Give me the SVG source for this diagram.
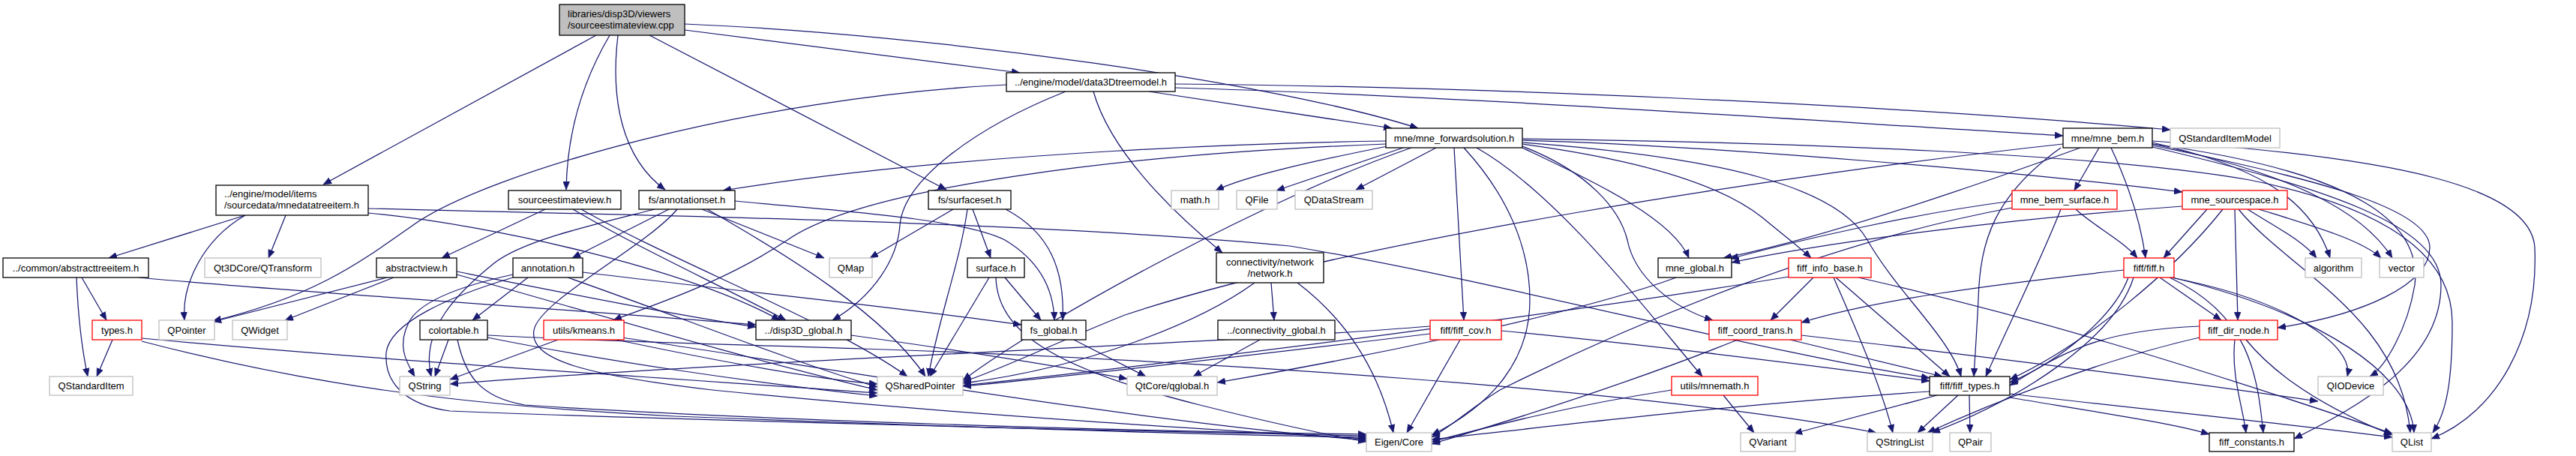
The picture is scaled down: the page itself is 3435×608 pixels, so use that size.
<svg xmlns="http://www.w3.org/2000/svg" width="3435" height="608" viewBox="0 0 3435 608">
<defs>
<style>
.n rect{fill:#fff;stroke:#000;stroke-width:1.3}
.g rect{stroke:#bfbfbf}
.r rect{stroke:#ff0000}
.root rect{fill:#bfbfbf}
text{font-family:"Liberation Sans",Arial,sans-serif;font-size:13px;fill:#000}
.c{text-anchor:middle}
#edges path{fill:none;stroke:#191970;stroke-width:1.25;marker-end:url(#a)}
</style>
<marker id="a" markerUnits="userSpaceOnUse" markerWidth="11" markerHeight="9" viewBox="0 0 11 9" refX="11" refY="4.5" orient="auto"><path d="M0,0 L11,4.5 L0,9 z" fill="#191970" stroke="#191970" stroke-width="0.5"/></marker>
</defs>
<rect width="3435" height="608" fill="#fff"/>
<g id="edges">
<path d="M795,47 L431,246"/>
<path d="M813,47 C776,110 756,180 755,253"/>
<path d="M824,47 C814,130 828,210 887,253"/>
<path d="M866,47 L1262,253"/>
<path d="M913,40 L1360,97"/>
<path d="M913,32 C1250,46 1700,110 1891,171"/>
<path d="M1532,122 L1856,171"/>
<path d="M1567,117 C1950,128 2400,160 2751,181"/>
<path d="M1567,112 C1950,115 2500,138 2894,173"/>
<path d="M1342,113 C1000,130 650,230 551,300 C480,350 420,395 284,428"/>
<path d="M1421,122 C1300,170 1205,240 1200,300 C1197,345 1165,395 1110,427"/>
<path d="M1458,122 C1480,200 1560,280 1630,337"/>
<path d="M327,287 L145,344"/>
<path d="M327,287 C270,320 242,380 246,427"/>
<path d="M381,287 L358,344"/>
<path d="M491,284 C660,300 920,360 1040,427"/>
<path d="M491,278 C1000,290 1400,298 1720,328 C2000,375 2350,470 2573,504"/>
<path d="M727,279 L589,344"/>
<path d="M764,279 C850,330 960,380 1048,427"/>
<path d="M775,279 C900,350 1110,430 1210,502"/>
<path d="M892,279 L763,344"/>
<path d="M936,279 L1099,344"/>
<path d="M873,279 C790,300 700,320 660,350 C610,390 560,440 575,502"/>
<path d="M980,268 C1100,280 1280,290 1340,320 C1390,350 1405,390 1406,427"/>
<path d="M943,279 C1050,340 1180,420 1234,502"/>
<path d="M903,279 C860,330 720,400 712,440 C705,480 780,500 950,520 C1300,555 1650,575 1822,585"/>
<path d="M1271,279 L1160,344"/>
<path d="M1290,279 C1280,350 1250,430 1238,502"/>
<path d="M1297,279 L1321,344"/>
<path d="M1341,279 C1400,310 1420,360 1417,427"/>
<path d="M102,370 C104,420 108,460 117,502"/>
<path d="M109,370 L142,427"/>
<path d="M185,370 C400,390 800,415 1008,433"/>
<path d="M150,453 L129,502"/>
<path d="M189,451 C500,480 900,505 1170,524"/>
<path d="M189,455 C400,510 600,540 900,555 C1300,570 1600,580 1822,583"/>
<path d="M516,370 L284,429"/>
<path d="M525,370 L380,427"/>
<path d="M609,366 C800,420 1000,480 1170,520"/>
<path d="M609,362 C750,390 900,420 1008,436"/>
<path d="M704,370 L630,427"/>
<path d="M684,366 C620,380 560,400 545,430 C530,460 540,480 553,502"/>
<path d="M684,370 C600,395 520,430 515,470 C512,510 540,540 600,548 C900,560 1500,575 1822,581"/>
<path d="M757,370 C900,420 1050,480 1170,516"/>
<path d="M777,363 C1000,390 1200,410 1362,433"/>
<path d="M598,453 L580,502"/>
<path d="M610,453 C620,500 640,530 700,540 C1000,560 1500,575 1822,579"/>
<path d="M650,447 C800,455 1000,460 1150,465 C1600,480 2200,520 2502,577"/>
<path d="M650,450 C800,480 1000,510 1170,528"/>
<path d="M744,453 L600,506"/>
<path d="M822,453 C950,480 1080,505 1170,512"/>
<path d="M829,450 C1100,490 1500,560 1822,587"/>
<path d="M1135,447 C1300,470 1420,490 1503,505"/>
<path d="M1432,453 L1528,502"/>
<path d="M1319,370 L1240,502"/>
<path d="M1340,370 L1388,427"/>
<path d="M1328,370 C1330,440 1400,490 1600,540 C1700,565 1760,578 1822,589"/>
<path d="M1695,377 L1699,427"/>
<path d="M1673,377 C1600,430 1450,490 1284,511"/>
<path d="M1730,377 C1800,430 1840,500 1858,577"/>
<path d="M1680,453 L1591,502"/>
<path d="M1947,453 L1876,577"/>
<path d="M1907,435 C1600,460 1000,480 600,512"/>
<path d="M1907,445 C1700,470 1450,500 1284,515"/>
<path d="M2002,441 C2200,460 2400,485 2573,508"/>
<path d="M1848,188 C1720,190 1300,200 964,254"/>
<path d="M1848,192 C1500,205 1150,250 1050,320 C960,380 860,410 818,427"/>
<path d="M1882,197 C1700,260 1400,420 1284,507"/>
<path d="M1915,197 L1808,253"/>
<path d="M1850,195 C1750,215 1660,235 1621,254"/>
<path d="M1871,197 L1702,254"/>
<path d="M1939,197 L1952,427"/>
<path d="M1952,197 C2010,260 2040,330 2040,400 C2040,480 1990,540 1909,580"/>
<path d="M1969,197 C2080,260 2200,420 2270,502"/>
<path d="M2030,195 C2120,230 2160,280 2170,320 C2180,370 2230,410 2284,427"/>
<path d="M2030,197 C2120,240 2230,290 2252,344"/>
<path d="M2030,192 C2200,215 2300,250 2350,290 C2380,315 2400,330 2415,344"/>
<path d="M2030,190 C2300,210 2450,250 2490,320 C2530,390 2600,450 2615,502"/>
<path d="M2030,187 C2300,195 2700,230 2910,256"/>
<path d="M2030,185 C2400,190 2800,205 3000,240 C3200,280 3270,350 3270,430 C3270,510 3262,550 3244,577"/>
<path d="M2774,197 C2600,260 2420,320 2298,344"/>
<path d="M2751,192 C2400,230 1800,320 1500,420 C1400,460 1330,495 1284,509"/>
<path d="M2748,197 C2660,260 2640,320 2638,400 C2636,440 2634,470 2632,502"/>
<path d="M2799,197 L2766,254"/>
<path d="M2815,197 C2840,250 2855,300 2861,344"/>
<path d="M2870,190 C3000,220 3080,260 3107,344"/>
<path d="M2870,192 C3050,230 3150,280 3190,344"/>
<path d="M2870,194 C3100,240 3240,280 3240,330 C3240,380 3150,420 3037,437"/>
<path d="M2870,196 C3100,250 3255,300 3255,380 C3255,480 3150,540 3059,585"/>
<path d="M2870,188 C3200,210 3375,250 3380,330 C3385,450 3330,550 3242,585"/>
<path d="M2870,192 C3150,230 3230,300 3220,380 C3210,440 3180,490 3160,502"/>
<path d="M2683,268 C2550,285 2400,320 2307,345"/>
<path d="M2683,277 C2450,320 2200,420 2000,520 C1960,545 1940,565 1909,583"/>
<path d="M2748,279 C2720,350 2680,430 2648,502"/>
<path d="M2768,279 C2790,300 2830,320 2850,344"/>
<path d="M2910,275 C2700,290 2450,320 2309,350"/>
<path d="M2943,279 L2885,344"/>
<path d="M2980,279 L2984,427"/>
<path d="M2997,279 C3030,300 3070,320 3089,344"/>
<path d="M3012,279 C3080,300 3150,320 3175,344"/>
<path d="M2985,279 C3050,360 3200,420 3214,577"/>
<path d="M2964,279 C2900,360 2780,460 2680,506"/>
<path d="M2832,360 C2650,380 2500,400 2402,430"/>
<path d="M2880,370 L2962,427"/>
<path d="M2838,370 C2820,420 2750,480 2680,510"/>
<path d="M2895,370 C3050,400 3140,460 3130,502"/>
<path d="M2893,370 C3000,420 3010,500 3018,577"/>
<path d="M2897,370 C3100,420 3214,500 3219,577"/>
<path d="M2845,370 C2820,450 2700,530 2576,577"/>
<path d="M2933,435 C2800,440 2750,470 2680,514"/>
<path d="M2980,453 C2975,500 2990,540 2995,577"/>
<path d="M2995,453 C3050,520 3140,560 3190,580"/>
<path d="M2933,450 C2800,480 2650,540 2570,577"/>
<path d="M2583,527 L2392,578"/>
<path d="M2611,527 L2557,577"/>
<path d="M2626,527 L2627,577"/>
<path d="M2680,530 C2800,550 2900,565 2946,579"/>
<path d="M2680,525 C2850,545 3050,565 3190,583"/>
<path d="M2573,522 C2300,540 2100,565 1909,586"/>
<path d="M2298,527 L2339,577"/>
<path d="M2229,520 C2100,540 2000,565 1909,589"/>
<path d="M2235,370 C2100,420 1800,480 1623,510"/>
<path d="M2317,453 C2200,500 2050,550 1909,592"/>
<path d="M2387,453 L2590,502"/>
<path d="M2402,447 C2600,470 2850,500 3091,535"/>
<path d="M2418,370 L2361,427"/>
<path d="M2445,370 C2480,450 2510,520 2524,577"/>
<path d="M2448,370 L2600,502"/>
<path d="M2478,370 C2700,420 2900,480 3190,578"/>
<path d="M2385,369 C2200,400 1700,470 1284,514"/>
</g>
<g id="node_root" class="n root"><rect x="746" y="6" width="167" height="41"/><text x="757" y="23">libraries/disp3D/viewers</text><text x="757" y="38">/sourceestimateview.cpp</text></g>
<g id="node_d3d" class="n"><rect x="1342" y="97" width="225" height="25"/><text class="c" x="1454.5" y="114">../engine/model/data3Dtreemodel.h</text></g>
<g id="node_fwd" class="n"><rect x="1848" y="171" width="182" height="26"/><text class="c" x="1939" y="188.5">mne/mne_forwardsolution.h</text></g>
<g id="node_bem" class="n"><rect x="2751" y="171" width="119" height="26"/><text class="c" x="2810.5" y="188.5">mne/mne_bem.h</text></g>
<g id="node_qsim" class="n g"><rect x="2894" y="171" width="146" height="26"/><text class="c" x="2967" y="188.5">QStandardItemModel</text></g>
<g id="node_mdti" class="n"><rect x="288" y="247" width="203" height="40"/><text x="299" y="263">../engine/model/items</text><text x="299" y="278">/sourcedata/mnedatatreeitem.h</text></g>
<g id="node_sevh" class="n"><rect x="678" y="254" width="150" height="25"/><text class="c" x="753" y="271">sourceestimateview.h</text></g>
<g id="node_ans" class="n"><rect x="852" y="254" width="128" height="25"/><text class="c" x="916" y="271">fs/annotationset.h</text></g>
<g id="node_sfs" class="n"><rect x="1238" y="254" width="110" height="25"/><text class="c" x="1293" y="271">fs/surfaceset.h</text></g>
<g id="node_math" class="n g"><rect x="1562" y="254" width="63" height="25"/><text class="c" x="1593.5" y="271">math.h</text></g>
<g id="node_qfile" class="n g"><rect x="1649" y="254" width="54" height="25"/><text class="c" x="1676" y="271">QFile</text></g>
<g id="node_qds" class="n g"><rect x="1727" y="254" width="103" height="25"/><text class="c" x="1778.5" y="271">QDataStream</text></g>
<g id="node_bems" class="n r"><rect x="2683" y="254" width="140" height="25"/><text class="c" x="2753" y="271">mne_bem_surface.h</text></g>
<g id="node_ssp" class="n r"><rect x="2910" y="254" width="140" height="25"/><text class="c" x="2980" y="271">mne_sourcespace.h</text></g>
<g id="node_ati" class="n"><rect x="4" y="344" width="194" height="26"/><text class="c" x="101" y="361.5">../common/abstracttreeitem.h</text></g>
<g id="node_qtr" class="n g"><rect x="273" y="344" width="155" height="26"/><text class="c" x="350.5" y="361.5">Qt3DCore/QTransform</text></g>
<g id="node_av" class="n"><rect x="502" y="344" width="107" height="26"/><text class="c" x="555.5" y="361.5">abstractview.h</text></g>
<g id="node_ann" class="n"><rect x="684" y="344" width="93" height="26"/><text class="c" x="730.5" y="361.5">annotation.h</text></g>
<g id="node_qmap" class="n g"><rect x="1106" y="344" width="57" height="26"/><text class="c" x="1134.5" y="361.5">QMap</text></g>
<g id="node_surf" class="n"><rect x="1290" y="344" width="76" height="26"/><text class="c" x="1328" y="361.5">surface.h</text></g>
<g id="node_net" class="n"><rect x="1622" y="337" width="143" height="40"/><text class="c" x="1693.5" y="354">connectivity/network</text><text class="c" x="1693.5" y="369">/network.h</text></g>
<g id="node_mneg" class="n"><rect x="2211" y="344" width="98" height="26"/><text class="c" x="2260" y="361.5">mne_global.h</text></g>
<g id="node_fib" class="n r"><rect x="2385" y="344" width="110" height="26"/><text class="c" x="2440" y="361.5">fiff_info_base.h</text></g>
<g id="node_fiff" class="n r"><rect x="2832" y="344" width="67" height="26"/><text class="c" x="2865.5" y="361.5">fiff/fiff.h</text></g>
<g id="node_alg" class="n g"><rect x="3074" y="344" width="75" height="26"/><text class="c" x="3111.5" y="361.5">algorithm</text></g>
<g id="node_vec" class="n g"><rect x="3173" y="344" width="59" height="26"/><text class="c" x="3202.5" y="361.5">vector</text></g>
<g id="node_types" class="n r"><rect x="123" y="427" width="66" height="26"/><text class="c" x="156" y="444.5">types.h</text></g>
<g id="node_qptr" class="n g"><rect x="212" y="427" width="74" height="26"/><text class="c" x="249" y="444.5">QPointer</text></g>
<g id="node_qwid" class="n g"><rect x="310" y="427" width="73" height="26"/><text class="c" x="346.5" y="444.5">QWidget</text></g>
<g id="node_ct" class="n"><rect x="560" y="427" width="90" height="26"/><text class="c" x="605" y="444.5">colortable.h</text></g>
<g id="node_km" class="n r"><rect x="725" y="427" width="107" height="26"/><text class="c" x="778.5" y="444.5">utils/kmeans.h</text></g>
<g id="node_d3g" class="n"><rect x="1008" y="427" width="127" height="26"/><text class="c" x="1071.5" y="444.5">../disp3D_global.h</text></g>
<g id="node_fsg" class="n"><rect x="1362" y="427" width="86" height="26"/><text class="c" x="1405" y="444.5">fs_global.h</text></g>
<g id="node_cong" class="n"><rect x="1624" y="427" width="156" height="26"/><text class="c" x="1702" y="444.5">../connectivity_global.h</text></g>
<g id="node_cov" class="n r"><rect x="1907" y="427" width="95" height="26"/><text class="c" x="1954.5" y="444.5">fiff/fiff_cov.h</text></g>
<g id="node_fct" class="n r"><rect x="2279" y="427" width="123" height="26"/><text class="c" x="2340.5" y="444.5">fiff_coord_trans.h</text></g>
<g id="node_fdn" class="n r"><rect x="2933" y="427" width="104" height="26"/><text class="c" x="2985" y="444.5">fiff_dir_node.h</text></g>
<g id="node_qsi" class="n g"><rect x="66" y="502" width="111" height="25"/><text class="c" x="121.5" y="519">QStandardItem</text></g>
<g id="node_qstr" class="n g"><rect x="533" y="502" width="67" height="25"/><text class="c" x="566.5" y="519">QString</text></g>
<g id="node_qsp" class="n g"><rect x="1170" y="502" width="114" height="25"/><text class="c" x="1227" y="519">QSharedPointer</text></g>
<g id="node_qgl" class="n g"><rect x="1503" y="502" width="120" height="25"/><text class="c" x="1563" y="519">QtCore/qglobal.h</text></g>
<g id="node_mathu" class="n r"><rect x="2229" y="502" width="115" height="25"/><text class="c" x="2286.5" y="519">utils/mnemath.h</text></g>
<g id="node_fty" class="n"><rect x="2573" y="502" width="107" height="25"/><text class="c" x="2626.5" y="519">fiff/fiff_types.h</text></g>
<g id="node_qio" class="n g"><rect x="3091" y="502" width="87" height="25"/><text class="c" x="3134.5" y="519">QIODevice</text></g>
<g id="node_eig" class="n g"><rect x="1822" y="577" width="87" height="25"/><text class="c" x="1865.5" y="594">Eigen/Core</text></g>
<g id="node_qvar" class="n g"><rect x="2321" y="577" width="73" height="25"/><text class="c" x="2357.5" y="594">QVariant</text></g>
<g id="node_qsl" class="n g"><rect x="2490" y="577" width="87" height="25"/><text class="c" x="2533.5" y="594">QStringList</text></g>
<g id="node_qpair" class="n g"><rect x="2600" y="577" width="55" height="25"/><text class="c" x="2627.5" y="594">QPair</text></g>
<g id="node_fcon" class="n"><rect x="2946" y="577" width="113" height="25"/><text class="c" x="3002.5" y="594">fiff_constants.h</text></g>
<g id="node_qlist" class="n g"><rect x="3190" y="577" width="52" height="25"/><text class="c" x="3216" y="594">QList</text></g>
</svg>
